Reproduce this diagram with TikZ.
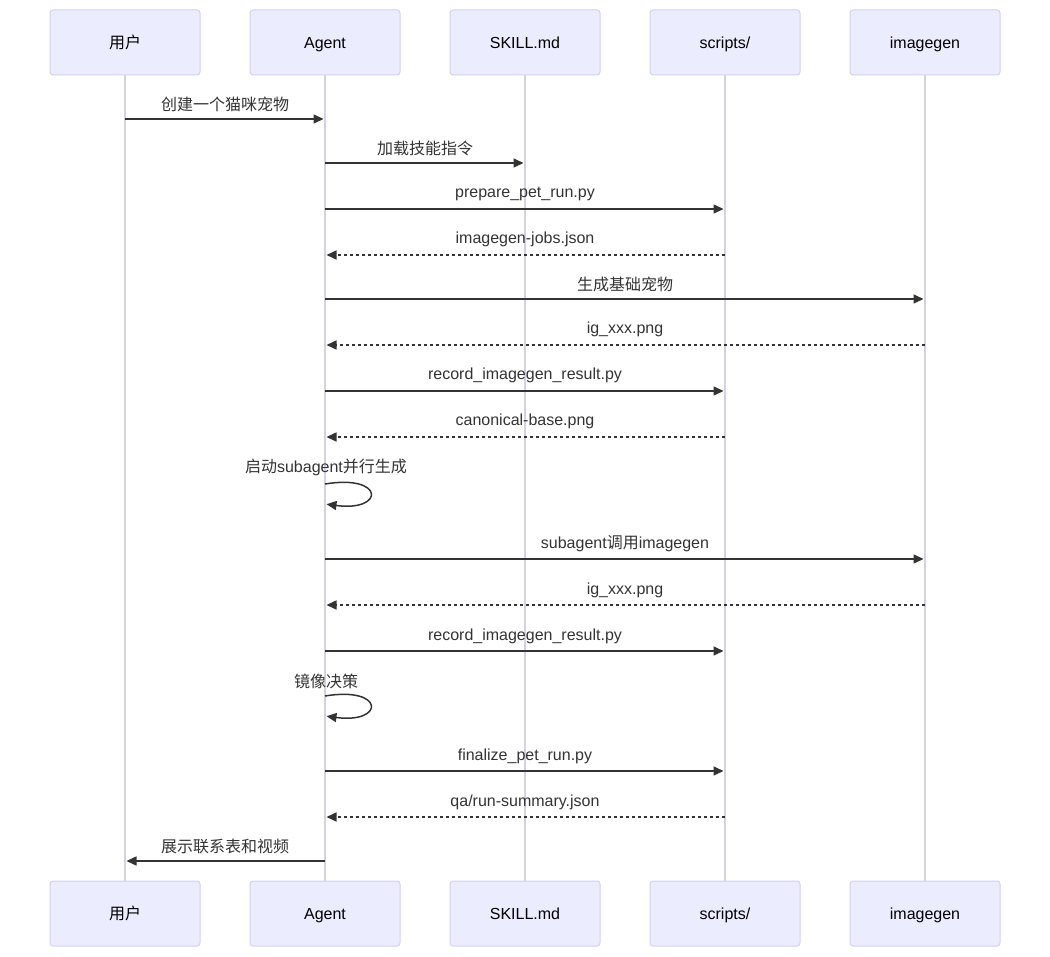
\documentclass[tikz,border=0pt]{standalone}
\usepackage{fontspec}
\setmainfont{Liberation Sans}
\newfontfamily\cjk{Noto Sans CJK SC}
\usetikzlibrary{arrows.meta}
\definecolor{boxfill}{HTML}{ECECFF}
\definecolor{boxline}{HTML}{D2D0EE}
\definecolor{lifeline}{HTML}{D3D0E8}
\definecolor{msgcol}{HTML}{333333}
\tikzset{
  actor/.style={draw=boxline, fill=boxfill, rounded corners=3pt, line width=1pt,
    minimum width=150pt, minimum height=65pt, inner sep=0pt},
  actortxt/.style={anchor=base, inner sep=0pt, font=\fontsize{16pt}{19pt}\selectfont, text=black},
  life/.style={draw=lifeline, line width=1.5pt},
  msg/.style={draw=msgcol, line width=1.5pt, shorten >=1.5pt, -{Triangle[length=10pt,width=9pt]}},
  rmsg/.style={msg, dash pattern=on 3pt off 3pt},
  lbl/.style={anchor=base, font=\fontsize{16pt}{19pt}\selectfont, text=msgcol, inner sep=0pt},
}
\begin{document}
\begin{tikzpicture}[x=1pt,y=-1pt]
\useasboundingbox (0,0) rectangle (1050,957);
% lifelines first
\foreach \x/\n in {125/u,325/a,525/s,725/c,925/i}{
  \coordinate (\n top) at (\x,75);
  \coordinate (\n bot) at (\x,881);
  \draw[life] (\n top) -- (\n bot);
}
% actors
\foreach \x/\n/\t in {125/u/{\cjk 用户},325/a/{Agent},525/s/{SKILL.md},725/c/{scripts/},925/i/{imagegen}}{
  \node[actor] (\n tbox) at (\x,42.5) {};
  \node[actortxt] (\n tlbl) at (\x,48.5) {\t};
  \node[actor] (\n bbox) at (\x,913.5) {};
  \node[actortxt] (\n blbl) at (\x,919.5) {\t};
}
% message anchor coordinates
\foreach \y/\k in {119/1,163/2,209/3,255/4,299/5,345/6,391/7,437/8,559/10,605/11,651/12,771/14,817/16,861/17}{
  \coordinate (u\k) at (125,\y);
  \coordinate (a\k) at (325,\y);
  \coordinate (s\k) at (525,\y);
  \coordinate (c\k) at (725,\y);
  \coordinate (i\k) at (925,\y);
}
\draw[msg] (u1) -- (a1);
\node[lbl] (l1) at (225,110.5) {\cjk 创建一个猫咪宠物};
\draw[msg] (a2) -- (s2);
\node[lbl] (l2) at (425,154.5) {\cjk 加载技能指令};
\draw[msg] (a3) -- (c3);
\node[lbl] (l3) at (525,198) {prepare\_pet\_run.py};
\draw[rmsg] (c4) -- (a4);
\node[lbl] (l4) at (525,244) {imagegen-jobs.json};
\draw[msg] (a5) -- (i5);
\node[lbl] (l5) at (625,290.5) {\cjk 生成基础宠物};
\draw[rmsg] (i6) -- (a6);
\node[lbl] (l6) at (625,334) {ig\_xxx.png};
\draw[msg] (a7) -- (c7);
\node[lbl] (l7) at (525,380) {record\_imagegen\_result.py};
\draw[rmsg] (c8) -- (a8);
\node[lbl] (l8) at (525,426) {canonical-base.png};
% self loop 1
\coordinate (sl1a) at (325,484);
\coordinate (sl1b) at (325,504);
\draw[msg] (sl1a) .. controls (385,474) and (385,512) .. (sl1b);
\node[lbl] (l9) at (326,473) {{\cjk 启动}subagent{\cjk 并行生成}};
\draw[msg] (a10) -- (i10);
\node[lbl] (l10) at (625,548.5) {subagent{\cjk 调用}imagegen};
\draw[rmsg] (i11) -- (a11);
\node[lbl] (l11) at (625,594) {ig\_xxx.png};
\draw[msg] (a12) -- (c12);
\node[lbl] (l12) at (525,640) {record\_imagegen\_result.py};
% self loop 2
\coordinate (sl2a) at (325,696);
\coordinate (sl2b) at (325,716);
\draw[msg] (sl2a) .. controls (385,686) and (385,724) .. (sl2b);
\node[lbl] (l13) at (326,687) {\cjk 镜像决策};
\draw[msg] (a14) -- (c14);
\node[lbl] (l14) at (525,760) {finalize\_pet\_run.py};
\draw[rmsg] (c16) -- (a16);
\node[lbl] (l16) at (525,806) {qa/run-summary.json};
\draw[msg] (a17) -- (u17);
\node[lbl] (l17) at (225,852.5) {\cjk 展示联系表和视频};
\end{tikzpicture}
\end{document}
